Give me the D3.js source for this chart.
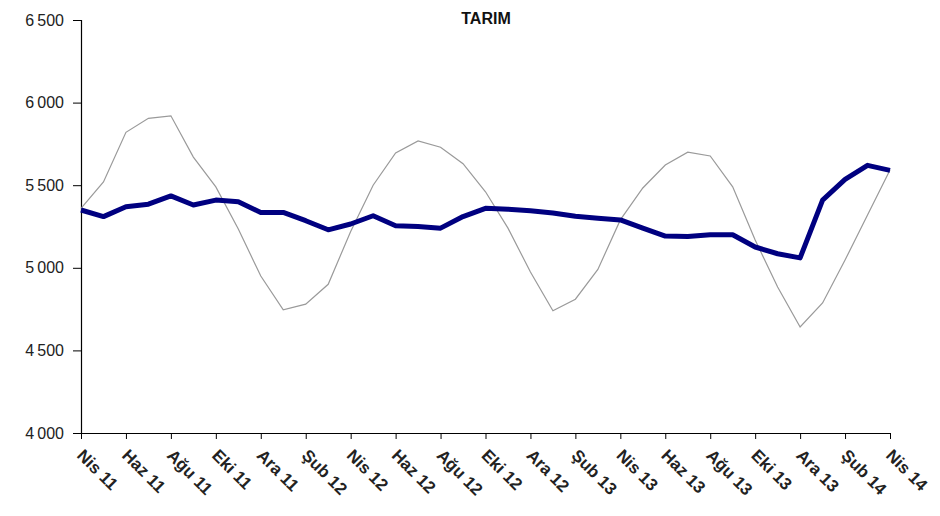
<!DOCTYPE html>
<html>
<head>
<meta charset="utf-8">
<script src="https://cdn.jsdelivr.net/npm/d3@7"></script>
<style>
  body { margin: 0; background: #fff; }
  text { font-family: "Liberation Sans", Arial, sans-serif; }
</style>
</head>
<body>
<svg id="chart" width="940" height="516"></svg>
<script>
// months Nis 11 .. Nis 14
var months = ["Nis 11","May 11","Haz 11","Tem 11","Ağu 11","Eyl 11","Eki 11","Kas 11","Ara 11","Oca 12","Şub 12","Mar 12",
              "Nis 12","May 12","Haz 12","Tem 12","Ağu 12","Eyl 12","Eki 12","Kas 12","Ara 12","Oca 13","Şub 13","Mar 13",
              "Nis 13","May 13","Haz 13","Tem 13","Ağu 13","Eyl 13","Eki 13","Kas 13","Ara 13","Oca 14","Şub 14","Mar 14","Nis 14"];

// seasonally adjusted (thick)
var adjusted = [5350, 5310, 5370, 5385, 5435, 5380, 5410, 5400, 5335, 5335, 5285, 5230,
                5265, 5315, 5255, 5250, 5240, 5310, 5360, 5355, 5345, 5332, 5312, 5300,
                5290, 5240, 5192, 5190, 5200, 5200, 5126, 5085, 5060, 5410, 5535, 5620, 5590];

// raw (thin)
var raw = [5360, 5520, 5820, 5905, 5920, 5670, 5490, 5235, 4950, 4745, 4780, 4900,
           5220, 5500, 5695, 5768, 5730, 5630, 5460, 5240, 4975, 4740, 4810, 4990,
           5290, 5483, 5622, 5700, 5677, 5490, 5168, 4884, 4642, 4787, 5047, 5320, 5592];

var yTicks = [4000, 4500, 5000, 5500, 6000, 6500];

var svg = d3.select("#chart");
var plotLeft = 81, plotRight = 890, plotTop = 20, plotBottom = 433;

var x = d3.scalePoint().domain(months).range([plotLeft, plotRight]);
var y = d3.scaleLinear().domain([4000, 6500]).range([plotBottom, plotTop]);

var fmt = function(d) { return d3.format(",")(d).replace(",", "\u2009"); };

// y axis
var yAxis = svg.append("g")
  .attr("transform", "translate(" + plotLeft + ",0)")
  .call(d3.axisLeft(y).tickValues(yTicks).tickSize(8).tickPadding(9).tickFormat(fmt));
yAxis.select(".domain").attr("stroke", "#000").attr("stroke-width", 1.2);
yAxis.selectAll(".tick line").attr("stroke", "#000");
yAxis.selectAll(".tick text")
  .attr("font-size", 16).attr("fill", "#222")
  .attr("font-family", "'Liberation Sans', Arial, sans-serif");

// x axis, tick every second month
var labelled = months.filter(function(d, i) { return i % 2 === 0; });
var xAxis = svg.append("g")
  .attr("transform", "translate(0," + plotBottom + ")")
  .call(d3.axisBottom(x).tickValues(labelled).tickSize(6).tickSizeOuter(0));
xAxis.select(".domain").attr("stroke", "#000").attr("stroke-width", 1.2);
xAxis.selectAll(".tick line").attr("stroke", "#000");
xAxis.selectAll(".tick text")
  .attr("font-size", 17).attr("font-weight", "bold").attr("fill", "#222")
  .attr("font-family", "'Liberation Sans', Arial, sans-serif")
  .attr("text-anchor", "start")
  .attr("dy", "0.7em").attr("y", 0)
  .attr("transform", "translate(3,15) rotate(45)");

var line = d3.line()
  .x(function(d, i) { return x(months[i]); })
  .y(function(d) { return y(d); });

svg.append("path")
  .datum(raw)
  .attr("fill", "none")
  .attr("stroke", "#9a9a9a")
  .attr("stroke-width", 1.2)
  .attr("d", line);

svg.append("path")
  .datum(adjusted)
  .attr("fill", "none")
  .attr("stroke", "#000080")
  .attr("stroke-width", 5)
  .attr("stroke-linejoin", "round")
  .attr("d", line);

svg.append("text")
  .attr("x", 486).attr("y", 24)
  .attr("text-anchor", "middle")
  .attr("font-size", 16).attr("font-weight", "bold")
  .attr("fill", "#111")
  .text("TARIM");
</script>
</body>
</html>
